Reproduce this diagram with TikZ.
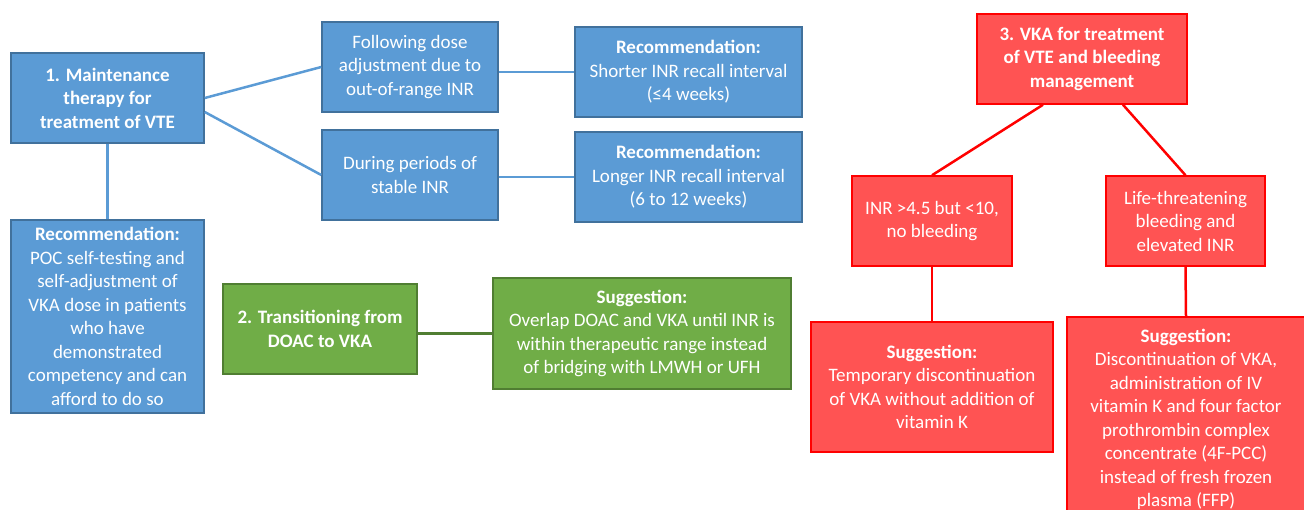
\documentclass[tikz,border=0pt]{standalone}
\usepackage{fontspec}
\setmainfont{Carlito}
\definecolor{bfill}{HTML}{5B9BD5}
\definecolor{bdraw}{HTML}{41719C}
\definecolor{gfill}{HTML}{70AD47}
\definecolor{gdraw}{HTML}{507E32}
\definecolor{rfill}{HTML}{FF5353}
\definecolor{rdraw}{HTML}{FF0000}
\tikzset{
  box/.style={rectangle, inner sep=0pt, align=center, text=white, line width=1.5pt},
  bluebox/.style={box, fill=bfill, draw=bdraw},
  greenbox/.style={box, fill=gfill, draw=gdraw},
  redbox/.style={box, fill=rfill, draw=rdraw},
  blueline/.style={draw=bfill, line width=2.5pt},
  greenline/.style={draw=gdraw, line width=2.5pt},
  redline/.style={draw=rdraw, line width=2.5pt}
}

\begin{document}
\begin{tikzpicture}[x=1pt, y=-1pt, font=\fontsize{19}{23.5}\selectfont]
  \useasboundingbox (0,0) rectangle (1304,510);
  \node[bluebox, minimum width=193, minimum height=90] (maint) at (107.5,98)
    {\textbf{1. Maintenance}\\\textbf{therapy for}\\\textbf{treatment of VTE}};
  \node[bluebox, minimum width=193, minimum height=193] (pocrec) at (107.5,316.5)
    {\textbf{Recommendation:}\\POC self-testing and\\self-adjustment of\\VKA dose in patients\\who have\\demonstrated\\competency and can\\afford to do so};
  \node[bluebox, minimum width=176, minimum height=90] (follow) at (410,67)
    {Following dose\\adjustment due to\\out-of-range INR};
  \node[bluebox, minimum width=176, minimum height=90] (during) at (410,175)
    {During periods of\\stable INR};
  \node[bluebox, minimum width=227, minimum height=90] (shortrec) at (688.5,72)
    {\textbf{Recommendation:}\\Shorter INR recall interval\\(≤4 weeks)};
  \node[bluebox, minimum width=227, minimum height=90] (longrec) at (688.5,177)
    {\textbf{Recommendation:}\\Longer INR recall interval\\(6 to 12 weeks)};
  \node[greenbox, minimum width=194, minimum height=90] (trans) at (320,329)
    {\textbf{2. Transitioning from}\\\textbf{DOAC to VKA}};
  \node[greenbox, minimum width=298, minimum height=111] (overlap) at (642,333.5)
    {\textbf{Suggestion:}\\Overlap DOAC and VKA until INR is\\within therapeutic range instead\\of bridging with LMWH or UFH};
  \node[redbox, minimum width=210, minimum height=90] (vka) at (1082,59)
    {\textbf{3. VKA for treatment}\\\textbf{of VTE and bleeding}\\\textbf{management}};
  \node[redbox, minimum width=160, minimum height=90] (inr) at (932,221)
    {INR >4.5 but <10,\\no bleeding};
  \node[redbox, minimum width=159, minimum height=90] (life) at (1185.5,221)
    {Life-threatening\\bleeding and\\elevated INR};
  \node[redbox, minimum width=242, minimum height=130] (tempsug) at (932,387)
    {\textbf{Suggestion:}\\Temporary discontinuation\\of VKA without addition of\\vitamin K};
  \node[redbox, minimum width=238, minimum height=205] (discsug) at (1186,419.5)
    {\textbf{Suggestion:}\\Discontinuation of VKA,\\administration of IV\\vitamin K and four factor\\prothrombin complex\\concentrate (4F-PCC)\\instead of fresh frozen\\plasma (FFP)};

  \draw[blueline] (maint.east) -- (follow.west);
  \draw[blueline] ([yshift=-14]maint.east) -- (during.west);
  \draw[blueline] (maint.south) -- (pocrec.north);
  \draw[blueline] (shortrec.west -| follow.east) -- (shortrec.west);
  \draw[blueline] (longrec.west -| during.east) -- (longrec.west);
  \draw[greenline] (overlap.west -| trans.east) -- (overlap.west);
  \draw[redline] ([xshift=-39]vka.south) -- (inr.north);
  \draw[redline] ([xshift=41]vka.south) -- (life.north);
  \draw[redline] (inr.south) -- (tempsug.north);
  \draw[redline] (life.south) -- (discsug.north);
\end{tikzpicture}
\end{document}
